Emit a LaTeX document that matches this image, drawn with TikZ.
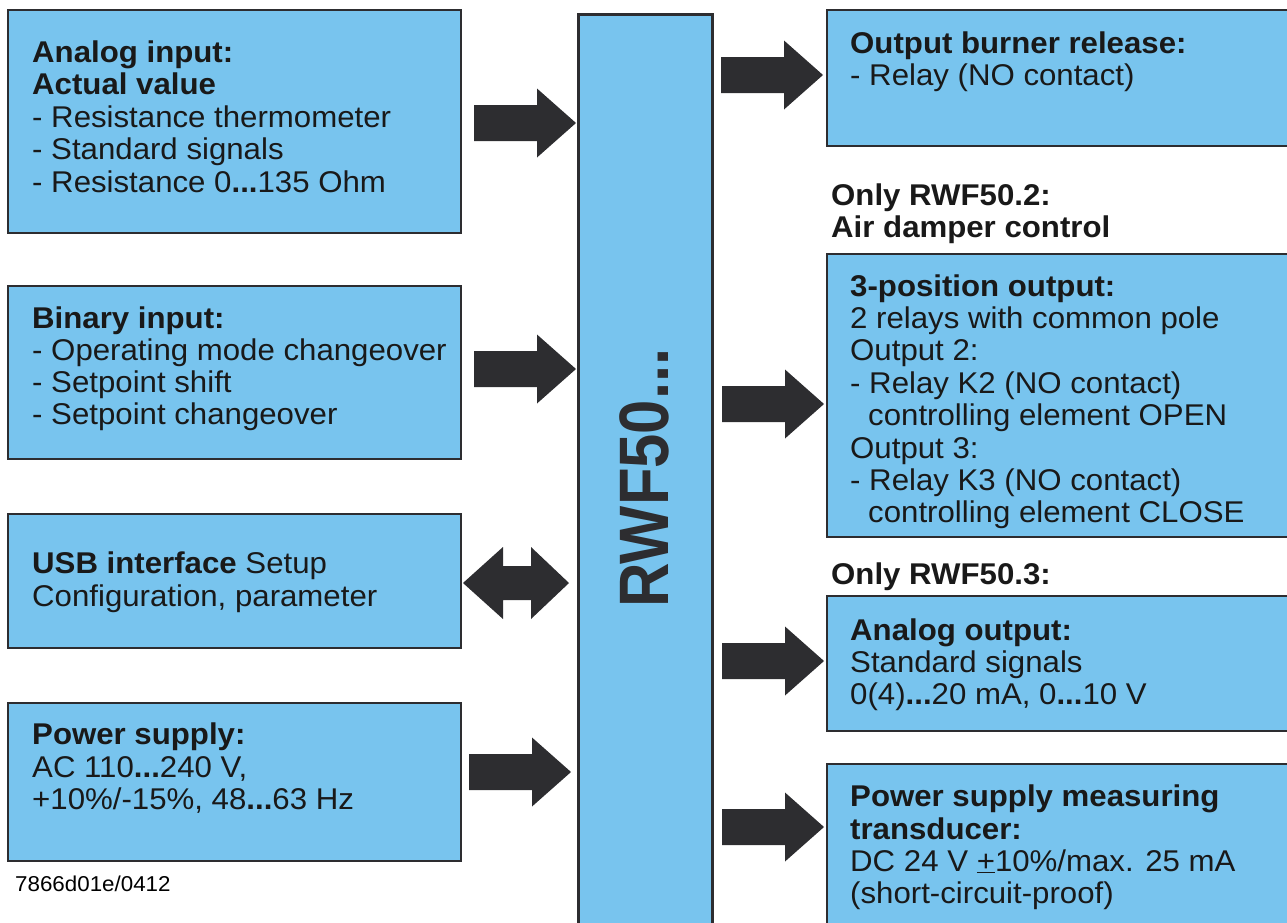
\documentclass[tikz,border=0pt]{standalone}
\usepackage{fontspec}
\setmainfont{Liberation Sans}[FakeStretch=1.04]
\newfontfamily\condfont{Liberation Sans}[FakeStretch=0.88]
\definecolor{boxblue}{RGB}{120,196,238}
\definecolor{darkline}{RGB}{45,45,48}
\tikzset{
  box/.style={fill=boxblue,draw=darkline,line width=2.5pt},
  arrowfill/.style={fill=darkline},
  txt/.style={anchor=base west,inner sep=0pt,font=\fontsize{30}{32.5}\selectfont,text=black!90}
}
\newcommand\tline[4]{\node[txt] (#1) at (#2,#3) {#4};}
\newcommand\rarrow[2]{\fill[arrowfill,shift={(#1,#2)}] (0,-18) -- (63,-18) -- (63,-34.5) -- (102,0) -- (63,34.5) -- (63,18) -- (0,18) -- cycle;}
\begin{document}
\begin{tikzpicture}[x=1pt,y=-1pt]
\useasboundingbox (0,0) rectangle (1287,922);
% left boxes
\draw[box] (8,10) rectangle (461,233);
\draw[box] (8,286) rectangle (461,459);
\draw[box] (8,514) rectangle (461,648);
\draw[box] (8,703) rectangle (461,861);
% centre box
\draw[box,line width=3pt] (578,14) rectangle (712,930);
\node[anchor=base,rotate=90,inner sep=0pt,font=\condfont\bfseries\fontsize{70}{70}\selectfont,text=darkline] (rwf) at (668,478) {RWF50...};
% right boxes
\draw[box] (827,10) rectangle (1295,146);
\draw[box] (827,254) rectangle (1295,537);
\draw[box] (827,596) rectangle (1295,731);
\draw[box] (827,764) rectangle (1295,930);
% arrows
\rarrow{474}{123}
\rarrow{474}{369}
\rarrow{469}{772}
\fill[arrowfill] (463,583) -- (503,547) -- (503,566) -- (531,566) -- (531,547) -- (569,583) -- (531,619) -- (531,600) -- (503,600) -- (503,619) -- cycle;
\rarrow{721}{75}
\rarrow{722}{404}
\rarrow{722}{661}
\rarrow{722}{827}
% left texts
\tline{a1}{32}{62}{\textbf{Analog input:}}
\tline{a2}{32}{94.5}{\textbf{Actual value}}
\tline{a3}{32}{127}{- Resistance thermometer}
\tline{a4}{32}{159.5}{- Standard signals}
\tline{a5}{32}{192}{- Resistance 0\textbf{...}135 Ohm}
\tline{b1}{32}{328}{\textbf{Binary input:}}
\tline{b2}{32}{360}{- Operating mode changeover}
\tline{b3}{32}{392}{- Setpoint shift}
\tline{b4}{32}{424}{- Setpoint changeover}
\tline{u1}{32}{573}{\textbf{USB interface} Setup}
\tline{u2}{32}{606}{Configuration, parameter}
\tline{p1}{32}{744}{\textbf{Power supply:}}
\tline{p2}{32}{777}{AC 110\textbf{...}240 V,}
\tline{p3}{32}{809}{+10\%/-15\%, 48\textbf{...}63 Hz}
\node[anchor=base west,inner sep=0pt,font=\fontsize{21.5}{24}\selectfont] (code) at (15,891) {7866d01e/0412};
% right texts
\tline{o1}{850}{53}{\textbf{Output burner release:}}
\tline{o2}{850}{85}{- Relay (NO contact)}
\tline{h1}{831}{205}{\textbf{Only RWF50.2:}}
\tline{h2}{831}{237}{\textbf{Air damper control}}
\tline{t1}{850}{296}{\textbf{3-position output:}}
\tline{t2}{850}{328}{2 relays with common pole}
\tline{t3}{850}{360}{Output 2:}
\tline{t4}{850}{393}{- Relay K2 (NO contact)}
\tline{t5}{868}{425}{controlling element OPEN}
\tline{t6}{850}{458}{Output 3:}
\tline{t7}{850}{490}{- Relay K3 (NO contact)}
\tline{t8}{868}{522}{controlling element CLOSE}
\tline{h3}{831}{584}{\textbf{Only RWF50.3:}}
\tline{n1}{850}{640}{\textbf{Analog output:}}
\tline{n2}{850}{672}{Standard signals}
\tline{n3}{850}{704}{0(4)\textbf{...}20 mA, 0\textbf{...}10 V}
\tline{m1}{850}{806}{\textbf{Power supply measuring}}
\tline{m2}{850}{839}{\textbf{transducer:}}
\tline{m3}{850}{871}{DC 24 V \underline{+}10\%/max. 25 mA}
\tline{m4}{850}{903}{(short-circuit-proof)}
\end{tikzpicture}
\end{document}
